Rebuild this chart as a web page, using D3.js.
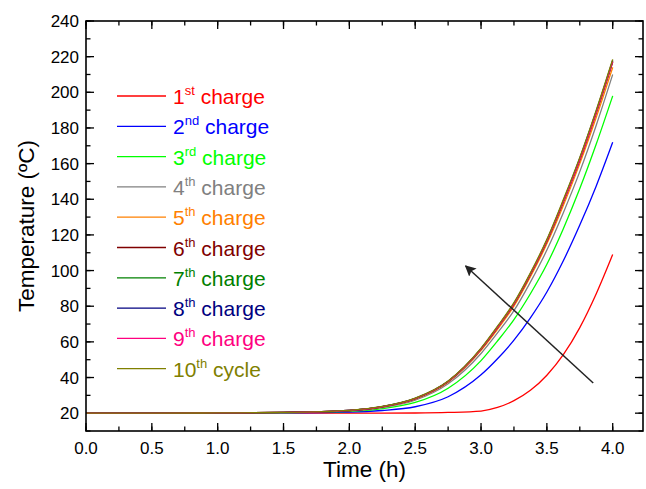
<!DOCTYPE html>
<html>
<head>
<meta charset="utf-8">
<script src="https://cdn.jsdelivr.net/npm/d3@7"></script>
<style>
  body { margin: 0; background: #fff; }
  svg { display: block; }
</style>
</head>
<body>
<div id="chart"></div>
<script>
// time points (h)
var times = [0, 0.5, 1.0, 1.5, 2.0, 2.25, 2.5, 2.75, 3.0, 3.125, 3.25, 3.375, 3.5, 3.625, 3.75, 3.875, 4.0];

// temperature (C) per charge
var charge1 = [20, 20, 20, 20, 20, 20.02, 20.1, 20.4, 21.2, 23.2, 27, 32.8, 41.3, 52.8, 68, 87, 109];
var charge2 = [20, 20.03, 20.1, 20.2, 20.6, 21.5, 23.6, 29.2, 41.5, 50.5, 61, 73.5, 88, 105.5, 125.5, 147.5, 172];
var charge3 = [20, 20.05, 20.1, 20.3, 21, 22.5, 26, 34, 49.5, 60.5, 72.5, 87, 103.5, 123.5, 146, 171, 198];
var charge4 = [20, 20.05, 20.15, 20.35, 21.3, 23.1, 27.3, 36.5, 53.5, 65, 77.5, 93.5, 111.5, 132.5, 155.5, 181.5, 210];
var charge5 = [20, 20.05, 20.15, 20.4, 21.4, 23.4, 27.9, 37.4, 55.2, 67, 80, 96.5, 115, 136.5, 160, 186, 214];
var charge6 = [20, 20.05, 20.15, 20.4, 21.5, 23.6, 28.2, 37.8, 56, 68, 81.2, 97.8, 116.5, 138.5, 162, 188.5, 217];
var charge7 = [20, 20.05, 20.15, 20.4, 21.5, 23.6, 28.2, 37.8, 56, 68.2, 81.4, 98, 116.8, 138.8, 162.5, 189, 217.5];
var charge8 = [20, 20.05, 20.15, 20.4, 21.5, 23.7, 28.3, 37.9, 56.2, 68.4, 81.6, 98.2, 117, 139.2, 163, 189.5, 218];
var charge9 = [20, 20.05, 20.15, 20.4, 21.5, 23.6, 28.2, 37.8, 56, 68.1, 81.3, 97.9, 116.6, 138.6, 162.2, 188.7, 217.2];
var cycle10 = [20, 20.05, 20.15, 20.45, 21.6, 23.8, 28.5, 38.1, 56.5, 68.8, 82, 98.7, 117.5, 139.8, 163.5, 190, 218.5];

var seriesValues = [charge1, charge2, charge3, charge4, charge5, charge6, charge7, charge8, charge9, cycle10];
var seriesNum = ["1", "2", "3", "4", "5", "6", "7", "8", "9", "10"];
var seriesSup = ["st", "nd", "rd", "th", "th", "th", "th", "th", "th", "th"];
var seriesWord = ["charge", "charge", "charge", "charge", "charge", "charge", "charge", "charge", "charge", "cycle"];
var colors = ["#ff0000", "#0000ff", "#00ff00", "#808080", "#ff8000", "#800000", "#008000", "#000080", "#ff0080", "#808000"];

var xTicks = [0, 0.5, 1.0, 1.5, 2.0, 2.5, 3.0, 3.5, 4.0];
var yTicks = [20, 40, 60, 80, 100, 120, 140, 160, 180, 200, 220, 240];

// arrow: [time, temperature] tail -> head
var arrowTail = [3.852, 36.9];
var arrowHead = [2.883, 102.6];

var w = 646, h = 489;
var margin = {top: 21, right: 3, bottom: 58, left: 86};

var svg = d3.select("#chart")
    .append("svg")
    .attr("width", w)
    .attr("height", h);

var xScale = d3.scaleLinear()
    .domain([0, 4.23])
    .range([margin.left, w - margin.right]);

var yScale = d3.scaleLinear()
    .domain([10, 240])
    .range([h - margin.bottom, margin.top]);

var font = "Liberation Sans, Arial, sans-serif";

// ticks on all four sides, pointing inward
var xMinor = d3.range(0, 4.23, 0.25);
var yMinor = d3.range(10, 241, 10);

function drawTicks(vals, len) {
    var g = svg.append("g").attr("stroke", "#000").attr("stroke-width", 1.3);
    vals.forEach(function (v) {
        var x = xScale(v);
        g.append("line").attr("x1", x).attr("x2", x)
            .attr("y1", h - margin.bottom).attr("y2", h - margin.bottom - len);
        g.append("line").attr("x1", x).attr("x2", x)
            .attr("y1", margin.top).attr("y2", margin.top + len);
    });
}
function drawYTicks(vals, len) {
    var g = svg.append("g").attr("stroke", "#000").attr("stroke-width", 1.3);
    vals.forEach(function (v) {
        var y = yScale(v);
        g.append("line").attr("y1", y).attr("y2", y)
            .attr("x1", margin.left).attr("x2", margin.left + len);
        g.append("line").attr("y1", y).attr("y2", y)
            .attr("x1", w - margin.right).attr("x2", w - margin.right - len);
    });
}
drawTicks(xMinor, 4.5);
drawTicks(xTicks, 8);
drawYTicks(yMinor, 4.5);
drawYTicks(yTicks, 8);

// curves
var line = d3.line()
    .x(function (d) { return xScale(d[0]); })
    .y(function (d) { return yScale(d[1]); })
    .curve(d3.curveMonotoneX);

seriesValues.forEach(function (vals, i) {
    svg.append("path")
        .datum(times.map(function (t, j) { return [t, vals[j]]; }))
        .attr("d", line)
        .attr("fill", "none")
        .attr("stroke", colors[i])
        .attr("stroke-width", 1.3);
});

// frame
svg.append("rect")
    .attr("x", margin.left)
    .attr("y", margin.top)
    .attr("width", w - margin.left - margin.right)
    .attr("height", h - margin.top - margin.bottom)
    .attr("fill", "none")
    .attr("stroke", "#000")
    .attr("stroke-width", 1.6);

// tick labels
svg.append("g").selectAll("text")
    .data(xTicks)
    .enter()
    .append("text")
    .text(function (d) { return d.toFixed(1); })
    .attr("x", function (d) { return xScale(d); })
    .attr("y", h - margin.bottom + 23)
    .attr("text-anchor", "middle")
    .attr("font-family", font)
    .attr("font-size", "17px")
    .attr("fill", "#000");

svg.append("g").selectAll("text")
    .data(yTicks)
    .enter()
    .append("text")
    .text(function (d) { return d; })
    .attr("x", margin.left - 7)
    .attr("y", function (d) { return yScale(d) + 6; })
    .attr("text-anchor", "end")
    .attr("font-family", font)
    .attr("font-size", "17px")
    .attr("fill", "#000");

// axis titles
svg.append("text")
    .text("Time (h)")
    .attr("x", (margin.left + w - margin.right) / 2)
    .attr("y", h - 12)
    .attr("text-anchor", "middle")
    .attr("font-family", font)
    .attr("font-size", "22.5px")
    .attr("fill", "#000");

svg.append("text")
    .text("Temperature (\u00baC)")
    .attr("transform", "translate(34," + ((margin.top + h - margin.bottom) / 2) + ") rotate(-90)")
    .attr("text-anchor", "middle")
    .attr("font-family", font)
    .attr("font-size", "22.5px")
    .attr("fill", "#000");

// arrow
svg.append("defs").append("marker")
    .attr("id", "head")
    .attr("viewBox", "0 0 10 10")
    .attr("refX", 9)
    .attr("refY", 5)
    .attr("markerWidth", 11)
    .attr("markerHeight", 11)
    .attr("markerUnits", "userSpaceOnUse")
    .attr("orient", "auto")
    .append("path")
    .attr("d", "M0,0 L10,5 L0,10 L2,5 Z")
    .attr("fill", "#222");

svg.append("line")
    .attr("x1", xScale(arrowTail[0]))
    .attr("y1", yScale(arrowTail[1]))
    .attr("x2", xScale(arrowHead[0]))
    .attr("y2", yScale(arrowHead[1]))
    .attr("stroke", "#222")
    .attr("stroke-width", 1.5)
    .attr("marker-end", "url(#head)");

// legend
var legend = svg.append("g");
seriesValues.forEach(function (vals, i) {
    var y = 96 + i * 30.3;
    legend.append("line")
        .attr("x1", 117).attr("x2", 166)
        .attr("y1", y).attr("y2", y)
        .attr("stroke", colors[i])
        .attr("stroke-width", 1.3);
    var t = legend.append("text")
        .attr("x", 173)
        .attr("y", y + 8)
        .attr("font-family", font)
        .attr("font-size", "21px")
        .attr("fill", colors[i]);
    t.append("tspan").text(seriesNum[i]);
    t.append("tspan").text(seriesSup[i])
        .attr("font-size", "13px")
        .attr("dy", -9);
    t.append("tspan").text(" " + seriesWord[i])
        .attr("dy", 9);
});
</script>
</body>
</html>
